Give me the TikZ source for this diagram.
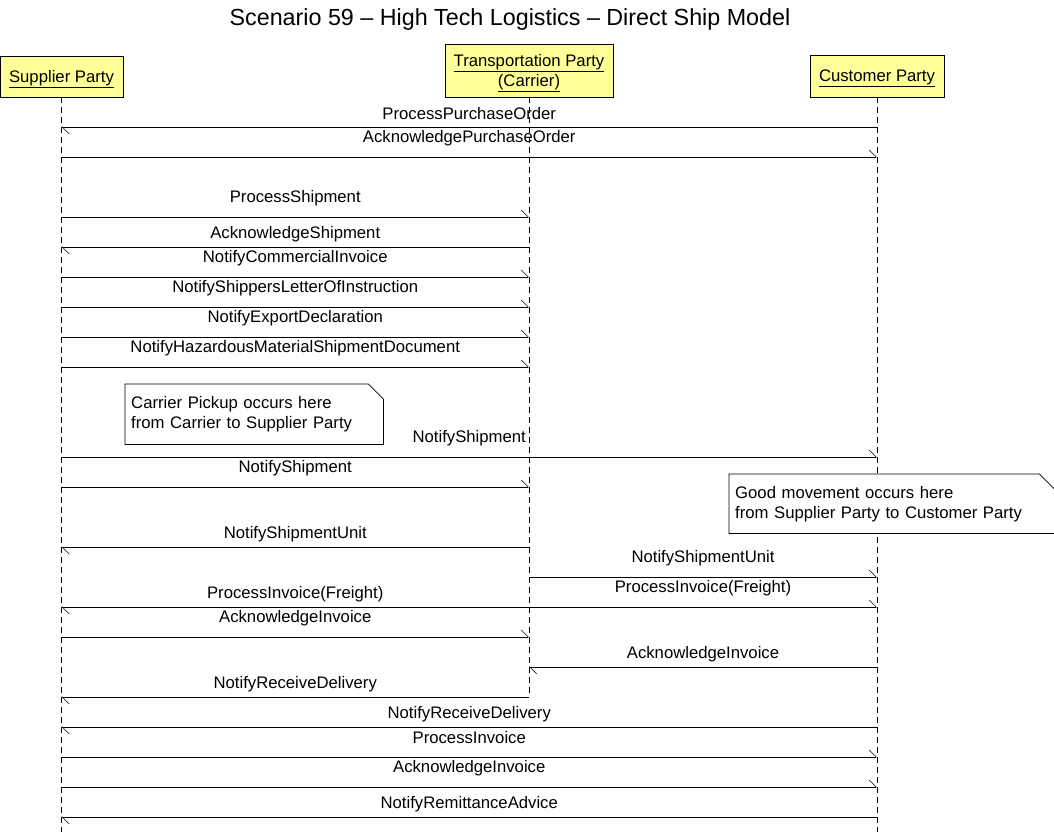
\documentclass[tikz,border=0pt]{standalone}
\usepackage{fontspec}
\setmainfont{Liberation Sans}
\usetikzlibrary{arrows.meta}
\definecolor{headfill}{HTML}{FFFF99}

\begin{document}
\begin{tikzpicture}[line cap=butt,x=1pt,y=-1pt,
  font=\fontsize{16.7}{20}\selectfont,
  head/.style={draw,line width=0.8pt,fill=headfill,align=center,inner sep=0pt,text depth=0pt},
  life/.style={dash pattern=on 6pt off 4pt,line width=0.7pt},
  msg/.style={line width=0.8pt,-{Straight Barb[left,length=7pt,width=14pt,line width=0.6pt]}},
  lblr/.style={midway,yshift=19pt},
  lbll/.style={midway,yshift=13pt},
  note/.style={anchor=north west,fill=white,align=left,inner xsep=6pt,inner ysep=0pt}]
\useasboundingbox (0,0) rectangle (1054,834);
\node[font=\fontsize{23.3}{28}\selectfont] (title) at (510,19.5) {Scenario 59 -- High Tech Logistics -- Direct Ship Model};
% lifeline heads
\node[head,minimum width=123,minimum height=41] (sup) at (61.5,76.5) {\underline{Supplier Party}};
\node[head,minimum width=168,minimum height=53] (car) at (529,70.5) {\underline{Transportation Party}\\\underline{(Carrier)}};
\node[head,minimum width=134,minimum height=42] (cus) at (877,76) {\underline{Customer Party}};
\draw[life] (sup.south) -- (sup |- 0,832);
\draw[life] (car.south) -- (car |- 0,697);
\draw[life] (cus.south) -- (cus |- 0,832);
% notes
\node[note,text width=246,minimum height=60] (pick) at (125,384) {Carrier Pickup occurs here\\from Carrier to Supplier Party};
\node[note,text width=313,minimum height=59] (move) at (729,474) {Good movement occurs here\\from Supplier Party to Customer Party};
\foreach \n in {pick,move}
  \draw[line width=0.8pt] (\n.north west) -- ([xshift=-15pt]\n.north east) -- ([yshift=-15pt]\n.north east)
    -- (\n.south east) -- (\n.south west) -- cycle;
% messages
\draw[msg] (cus |- 0,127) -- node[lbll]{ProcessPurchaseOrder} (sup |- 0,127);
\draw[msg] (sup |- 0,157) -- node[lblr]{AcknowledgePurchaseOrder} (cus |- 0,157);
\draw[msg] (sup |- 0,217) -- node[lblr]{ProcessShipment} (car |- 0,217);
\draw[msg] (car |- 0,247) -- node[lbll]{AcknowledgeShipment} (sup |- 0,247);
\draw[msg] (sup |- 0,277) -- node[lblr]{NotifyCommercialInvoice} (car |- 0,277);
\draw[msg] (sup |- 0,307) -- node[lblr]{NotifyShippersLetterOfInstruction} (car |- 0,307);
\draw[msg] (sup |- 0,337) -- node[lblr]{NotifyExportDeclaration} (car |- 0,337);
\draw[msg] (sup |- 0,367) -- node[lblr]{NotifyHazardousMaterialShipmentDocument} (car |- 0,367);
\draw[msg] (sup |- 0,457) -- node[lblr]{NotifyShipment} (cus |- 0,457);
\draw[msg] (sup |- 0,487) -- node[lblr]{NotifyShipment} (car |- 0,487);
\draw[msg] (car |- 0,547) -- node[lbll]{NotifyShipmentUnit} (sup |- 0,547);
\draw[msg] (car |- 0,577) -- node[lblr]{NotifyShipmentUnit} (cus |- 0,577);
\draw[msg] (car |- 0,607) -- node[lbll]{ProcessInvoice(Freight)} (sup |- 0,607);
\draw[msg] (car |- 0,607) -- node[lblr]{ProcessInvoice(Freight)} (cus |- 0,607);
\draw[msg] (sup |- 0,637) -- node[lblr]{AcknowledgeInvoice} (car |- 0,637);
\draw[msg] (cus |- 0,667) -- node[lbll]{AcknowledgeInvoice} (car |- 0,667);
\draw[msg] (car |- 0,697) -- node[lbll]{NotifyReceiveDelivery} (sup |- 0,697);
\draw[msg] (cus |- 0,727) -- node[lbll]{NotifyReceiveDelivery} (sup |- 0,727);
\draw[msg] (sup |- 0,757) -- node[lblr]{ProcessInvoice} (cus |- 0,757);
\draw[msg] (sup |- 0,787) -- node[lblr]{AcknowledgeInvoice} (cus |- 0,787);
\draw[msg] (cus |- 0,817) -- node[lbll]{NotifyRemittanceAdvice} (sup |- 0,817);
\end{tikzpicture}
\end{document}
